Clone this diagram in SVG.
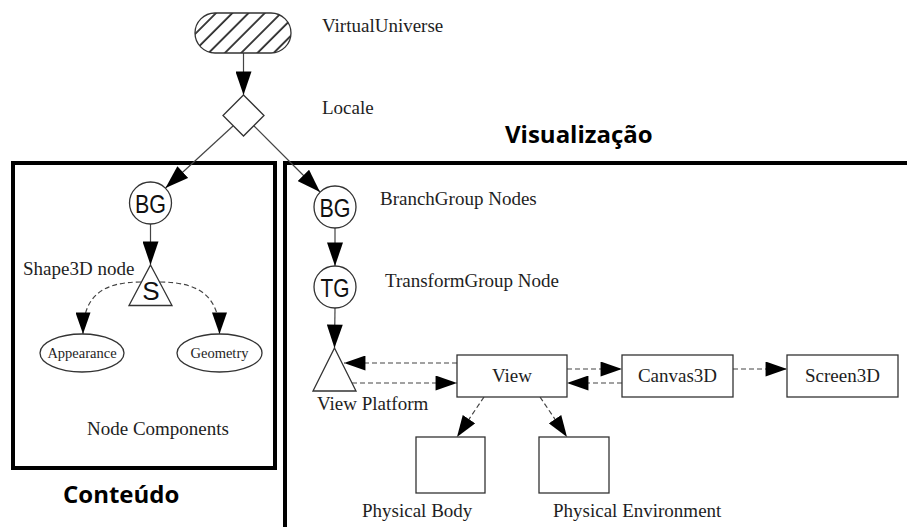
<svg xmlns="http://www.w3.org/2000/svg" width="907" height="527" viewBox="0 0 907 527">
<defs>
<style>
.t{font-family:"Liberation Serif","Times New Roman",serif;font-size:19px;fill:#1e1e1e}
.s{font-family:"Liberation Serif","Times New Roman",serif;font-size:14.5px;fill:#1e1e1e}
.g{font-family:"Liberation Sans",Arial,sans-serif;font-size:26px;fill:#111;text-anchor:middle}
.b{font-family:"Open Sans","Liberation Sans",sans-serif;font-weight:bold;font-size:24px;fill:#000}
.n{fill:#fff;stroke:#333;stroke-width:1.3}
.c{fill:none;stroke:#444;stroke-width:1.2}
.d{fill:none;stroke:#444;stroke-width:1.2;stroke-dasharray:5 3}
.frame{fill:none;stroke:#000;stroke-width:4}
.m{text-anchor:middle}
</style>
<pattern id="hatch" width="11.5" height="11.5" patternUnits="userSpaceOnUse" patternTransform="rotate(45)">
<line x1="1" y1="0" x2="1" y2="11.5" stroke="#111" stroke-width="1.6"/>
</pattern>
<marker id="ah" markerUnits="userSpaceOnUse" markerWidth="24" markerHeight="16" viewBox="0 0 22 15" refX="22" refY="7.5" orient="auto">
<path d="M0,0 L22,7.5 L0,15 Z" fill="#000"/>
</marker>
<marker id="ad" markerUnits="userSpaceOnUse" markerWidth="22" markerHeight="15" viewBox="0 0 20 14" refX="20" refY="7" orient="auto">
<path d="M0,0 L20,7 L0,14 Z" fill="#000"/>
</marker>
</defs>
<rect width="907" height="527" fill="#fff"/>

<g id="frames">
<rect id="frame-conteudo" class="frame" x="13" y="163" width="262" height="305"/>
<path id="frame-visualizacao" class="frame" d="M285,535 V163 H912"/>
<text class="b" x="63" y="503">Conteúdo</text>
<text class="b" x="505" y="143">Visualização</text>
</g>

<g id="connectors">
<line class="c" x1="243.5" y1="53" x2="243.5" y2="95" marker-end="url(#ah)"/>
<line class="c" x1="233" y1="126" x2="165.5" y2="188" marker-end="url(#ah)"/>
<line class="c" x1="254" y1="126" x2="320" y2="192" marker-end="url(#ah)"/>
<line class="c" x1="150.5" y1="224" x2="150.5" y2="265" marker-end="url(#ah)"/>
<line class="c" x1="335" y1="228" x2="335" y2="266" marker-end="url(#ah)"/>
<line class="c" x1="335" y1="308" x2="334.5" y2="348" marker-end="url(#ah)"/>
<path class="d" d="M141,282 C100,282 83,298 83,334" marker-end="url(#ad)"/>
<path class="d" d="M160,282 C201,282 219.5,298 219.5,334" marker-end="url(#ad)"/>
<line class="d" x1="457" y1="363" x2="344" y2="363" marker-end="url(#ad)"/>
<line class="d" x1="352" y1="383" x2="457" y2="383" marker-end="url(#ad)"/>
<line class="d" x1="567" y1="369" x2="622" y2="369" marker-end="url(#ad)"/>
<line class="d" x1="622" y1="383" x2="567" y2="383" marker-end="url(#ad)"/>
<line class="d" x1="733" y1="369" x2="787" y2="369" marker-end="url(#ad)"/>
<line class="d" x1="484" y1="397" x2="457" y2="437" marker-end="url(#ad)"/>
<line class="d" x1="540" y1="397" x2="567" y2="437" marker-end="url(#ad)"/>
</g>

<g id="virtual-universe">
<rect x="195" y="13" width="96" height="40" rx="20" ry="20" fill="url(#hatch)" stroke="#333" stroke-width="1.3"/>
<text class="t" x="322" y="32">VirtualUniverse</text>
</g>

<g id="locale">
<path class="n" d="M243.5,95 L264,115.5 L243.5,136 L223,115.5 Z"/>
<text class="t" x="322" y="114">Locale</text>
</g>

<g id="bg-content">
<circle class="n" cx="150.5" cy="203" r="21"/>
<text class="g" x="150.5" y="212.5" textLength="31" lengthAdjust="spacingAndGlyphs">BG</text>
</g>

<g id="shape3d">
<path class="n" d="M150.5,265 L172,305.5 L129,305.5 Z"/>
<text class="g" x="151" y="300" font-size="26">S</text>
<text class="t" x="23" y="275">Shape3D node</text>
</g>

<g id="appearance">
<ellipse class="n" cx="82" cy="353" rx="42" ry="19"/>
<text class="s m" x="82" y="358">Appearance</text>
</g>

<g id="geometry">
<ellipse class="n" cx="219.5" cy="353" rx="42.5" ry="19"/>
<text class="s m" x="219.5" y="358">Geometry</text>
</g>

<g id="node-components">
<text class="t" x="87" y="435">Node Components</text>
</g>

<g id="bg-view">
<circle class="n" cx="335" cy="207" r="21"/>
<text class="g" x="335" y="216.5" textLength="31" lengthAdjust="spacingAndGlyphs">BG</text>
<text class="t" x="380" y="205">BranchGroup Nodes</text>
</g>

<g id="tg">
<circle class="n" cx="335" cy="287" r="21"/>
<text class="g" x="335" y="296.5" textLength="29" lengthAdjust="spacingAndGlyphs">TG</text>
<text class="t" x="385" y="287">TransformGroup Node</text>
</g>

<g id="view-platform">
<path class="n" d="M334.5,348 L356,391 L313,391 Z"/>
<text class="t" x="317" y="410">View Platform</text>
</g>

<g id="view">
<rect class="n" x="457" y="355" width="110" height="42"/>
<text class="t m" x="512" y="382">View</text>
</g>

<g id="canvas3d">
<rect class="n" x="622" y="355" width="111" height="42"/>
<text class="t m" x="677.5" y="382">Canvas3D</text>
</g>

<g id="screen3d">
<rect class="n" x="787" y="355" width="111" height="42"/>
<text class="t m" x="842.5" y="382">Screen3D</text>
</g>

<g id="physical-body">
<rect class="n" x="416" y="437" width="69" height="56"/>
<text class="t" x="362" y="517">Physical Body</text>
</g>

<g id="physical-environment">
<rect class="n" x="539" y="437" width="70" height="56"/>
<text class="t" x="553" y="517">Physical Environment</text>
</g>
</svg>
